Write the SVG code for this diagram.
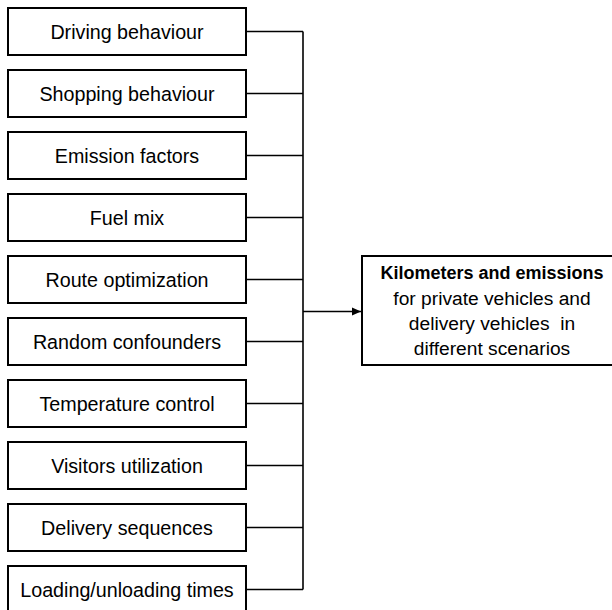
<svg xmlns="http://www.w3.org/2000/svg" width="612" height="610" viewBox="0 0 612 610">
<style>
.box{fill:#fff;stroke:#000;stroke-width:2}
.lbl{font-family:"Liberation Sans",Arial,sans-serif;font-size:19.7px;fill:#000;text-anchor:middle}
.o{font-size:19.2px}
.b{font-weight:bold;font-size:18px}
.con{stroke:#000;stroke-width:1.6;fill:none}
</style>
<defs>
<marker id="ah" markerWidth="9" markerHeight="9" refX="9" refY="4.5" orient="auto" markerUnits="userSpaceOnUse">
<path d="M0,0.5 L9,4.5 L0,8.5 Z" fill="#000"/>
</marker>
</defs>
<rect width="612" height="610" fill="#fff"/>
<g id="n1"><rect class="box" x="8" y="8" width="238" height="47"/><text class="lbl" x="127" y="38.5">Driving behaviour</text></g>
<g id="n2"><rect class="box" x="8" y="70" width="238" height="47"/><text class="lbl" x="127" y="100.5">Shopping behaviour</text></g>
<g id="n3"><rect class="box" x="8" y="132" width="238" height="47"/><text class="lbl" x="127" y="162.5">Emission factors</text></g>
<g id="n4"><rect class="box" x="8" y="194" width="238" height="47"/><text class="lbl" x="127" y="224.5">Fuel mix</text></g>
<g id="n5"><rect class="box" x="8" y="256" width="238" height="47"/><text class="lbl" x="127" y="286.5">Route optimization</text></g>
<g id="n6"><rect class="box" x="8" y="318" width="238" height="47"/><text class="lbl" x="127" y="348.5">Random confounders</text></g>
<g id="n7"><rect class="box" x="8" y="380" width="238" height="47"/><text class="lbl" x="127" y="410.5">Temperature control</text></g>
<g id="n8"><rect class="box" x="8" y="442" width="238" height="47"/><text class="lbl" x="127" y="472.5">Visitors utilization</text></g>
<g id="n9"><rect class="box" x="8" y="504" width="238" height="47"/><text class="lbl" x="127" y="534.5">Delivery sequences</text></g>
<g id="n10"><rect class="box" x="8" y="566" width="238" height="47"/><text class="lbl" x="127" y="596.5">Loading/unloading times</text></g>
<g id="out"><rect class="box" x="362" y="256" width="262" height="109"/>
<text class="lbl b" x="492" y="279">Kilometers and emissions</text>
<text class="lbl o" x="492" y="304.5">for private vehicles and</text>
<text class="lbl o" x="492" y="330" xml:space="preserve">delivery vehicles  in</text>
<text class="lbl o" x="492" y="355">different scenarios</text>
</g>
<g id="connectors">
<path class="con" d="M246,31.5H303M246,93.5H303M246,155.5H303M246,217.5H303M246,279.5H303M246,341.5H303M246,403.5H303M246,465.5H303M246,527.5H303M246,589.5H303"/>
<path class="con" d="M303,31.5V589.5"/>
<path class="con" d="M303,311.5H361" marker-end="url(#ah)"/>
</g>
</svg>
